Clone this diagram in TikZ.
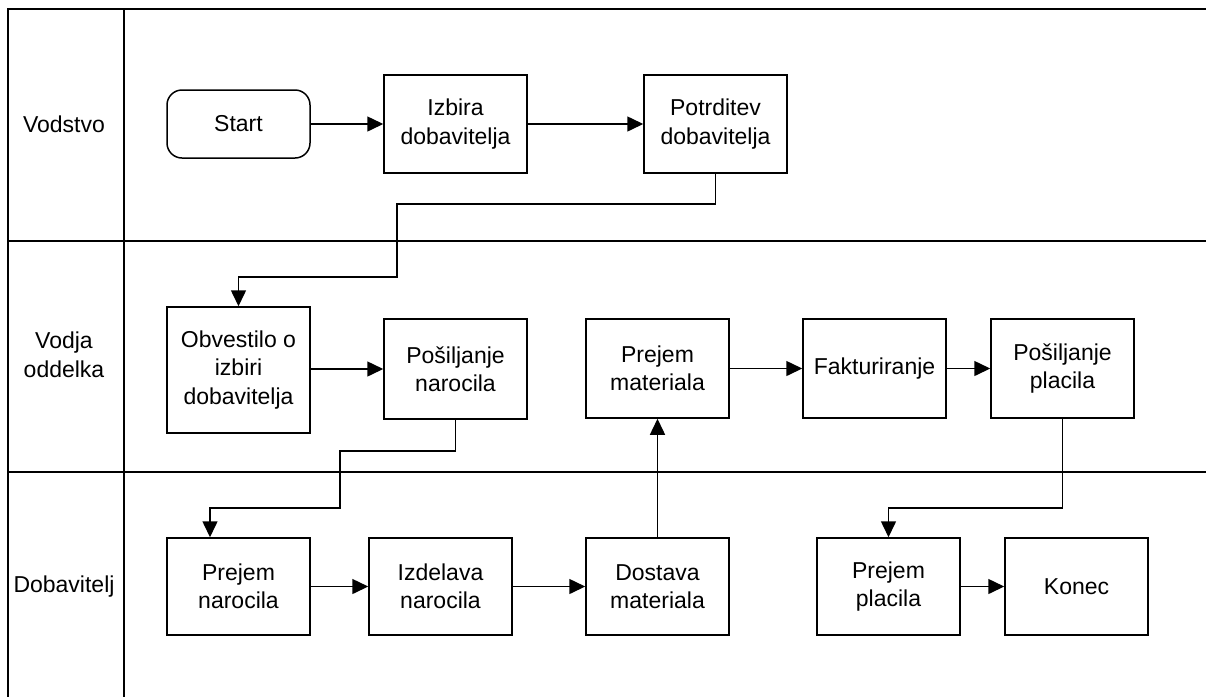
\documentclass[tikz,border=0pt]{standalone}
\usepackage{fontspec}
\setmainfont{Liberation Sans}
\usetikzlibrary{arrows.meta}
\begin{document}
\begin{tikzpicture}[x=1pt,y=-1pt,
  lane/.style={line width=1.5pt},
  box/.style={draw, line width=1.5pt, minimum width=143pt, minimum height=98pt, inner sep=0pt, align=center, font=\fontsize{23}{28.5}\selectfont},
  lbl/.style={align=center, font=\fontsize{23}{28.5}\selectfont},
  arr/.style={line width=1.5pt, -{Triangle[length=16pt,width=15pt]}}]
\useasboundingbox (0,0) rectangle (1206,697);
% swimlanes
\draw[lane] (1206,9) -- (8,9) -- (8,697);
\draw[lane] (124,9) -- (124,697);
\draw[lane] (8,241) -- (1206,241);
\draw[lane] (8,472) -- (1206,472);
\node[lbl] (l1) at (64,124) {Vodstvo};
\node[lbl] (l2) at (64,355) {Vodja\\oddelka};
\node[lbl] (l3) at (64,587) {Dobavitelj};
% nodes
\node[box, minimum height=68pt, rounded corners=15pt] (start) at (238.5,124) {Start};
\node[box] (izb) at (455.5,124) {Izbira\\dobavitelja};
\node[box] (pot) at (715.5,124) {Potrditev\\dobavitelja};
\node[box, minimum height=126pt] (obv) at (238.5,370) {Obvestilo o\\izbiri\\dobavitelja};
\node[box, minimum height=100pt] (posn) at (455.5,369) {Pošiljanje\\narocila};
\node[box, minimum height=99pt] (prm) at (657.5,368.5) {Prejem\\materiala};
\node[box, minimum height=99pt] (fak) at (874.5,368.5) {Fakturiranje};
\node[box, minimum height=99pt] (posp) at (1062.5,368.5) {Pošiljanje\\placila};
\node[box, minimum height=97pt] (prn) at (238.5,586.5) {Prejem\\narocila};
\node[box, minimum height=97pt] (izd) at (440.5,586.5) {Izdelava\\narocila};
\node[box, minimum height=97pt] (dos) at (657.5,586.5) {Dostava\\materiala};
\node[box, minimum height=97pt] (prp) at (888.5,586.5) {Prejem\\placila};
\node[box, minimum height=97pt] (kon) at (1076.5,586.5) {Konec};
% connectors
\draw[arr] (start) -- (izb);
\draw[arr] (izb) -- (pot);
\draw[arr] (pot.south) |- (397,204) |- (obv.north |- 0,277) -- (obv.north);
\draw[arr] (obv.east |- posn.east) -- (posn.west);
\draw[arr] (posn.south) |- (340,451) |- (210,508) -- (prn.north -| 210,0);
\draw[arr] (prn) -- (izd);
\draw[arr] (izd) -- (dos);
\draw[arr] (dos) -- (prm);
\draw[arr] (prm) -- (fak);
\draw[arr] (fak) -- (posp);
\draw[arr] (posp.south) |- (prp.north |- 0,508) -- (prp.north);
\draw[arr] (prp) -- (kon);
\end{tikzpicture}
\end{document}
